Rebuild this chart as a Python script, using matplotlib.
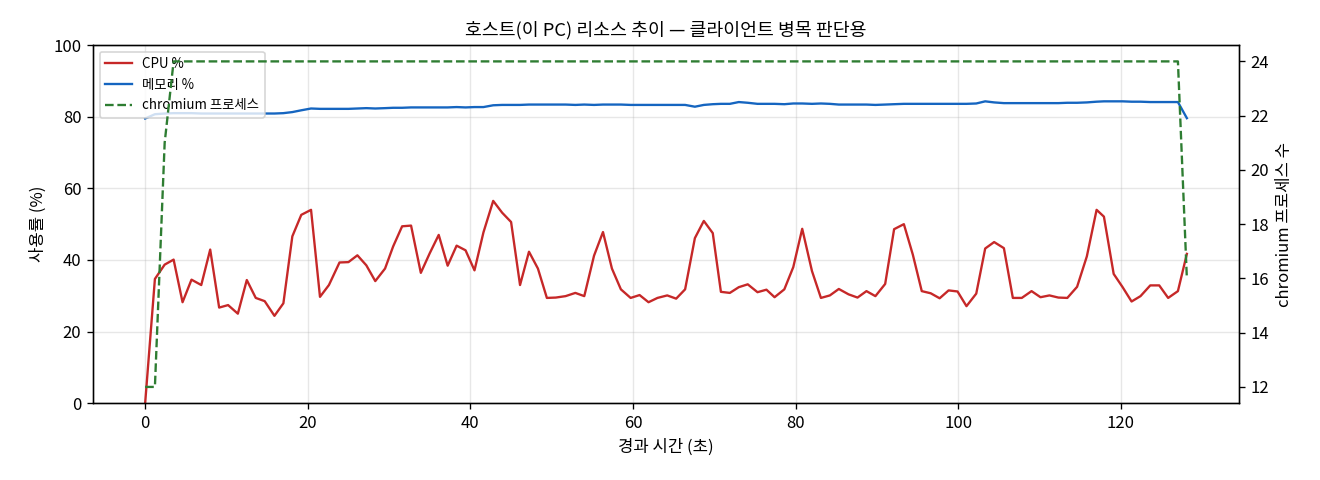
import matplotlib
matplotlib.use("Agg")
import matplotlib.pyplot as plt

plt.rcParams['font.family'] = ['Noto Sans CJK KR', 'DejaVu Sans']
plt.rcParams['axes.unicode_minus'] = False

# elapsed seconds of each sample
elapsed = [
    0.0, 1.2, 2.4, 3.5, 4.6, 5.7, 6.9, 8.0, 9.1, 10.2,
    11.4, 12.5, 13.6, 14.7, 15.9, 17.0, 18.1, 19.2, 20.4, 21.5,
    22.6, 23.9, 25.0, 26.1, 27.2, 28.3, 29.5, 30.5, 31.6, 32.7,
    33.9, 35.0, 36.1, 37.2, 38.3, 39.4, 40.5, 41.6, 42.8, 43.9,
    45.0, 46.1, 47.2, 48.3, 49.4, 50.5, 51.7, 52.9, 54.0, 55.2,
    56.3, 57.4, 58.5, 59.7, 60.8, 61.9, 63.0, 64.2, 65.3, 66.4,
    67.6, 68.7, 69.8, 70.8, 71.9, 73.0, 74.1, 75.3, 76.4, 77.4,
    78.6, 79.7, 80.8, 82.0, 83.1, 84.2, 85.3, 86.5, 87.6, 88.7,
    89.8, 91.0, 92.1, 93.3, 94.4, 95.5, 96.6, 97.7, 98.8, 99.9,
    101.0, 102.2, 103.3, 104.4, 105.6, 106.7, 107.8, 109.0, 110.1, 111.2,
    112.3, 113.4, 114.6, 115.8, 117.0, 117.9, 119.1, 120.2, 121.3, 122.4,
    123.6, 124.7, 125.8, 127.0, 128.1,
]

cpu = [
    0.0, 34.7, 38.7, 40.1, 28.2, 34.5, 33.0, 42.9, 26.7, 27.4,
    25.0, 34.4, 29.4, 28.5, 24.4, 27.9, 46.6, 52.6, 54.0, 29.7,
    33.0, 39.3, 39.4, 41.3, 38.5, 34.1, 37.6, 43.8, 49.4, 49.6,
    36.4, 41.9, 47.0, 38.4, 44.0, 42.7, 37.1, 47.7, 56.5, 53.2,
    50.6, 33.0, 42.3, 37.6, 29.4, 29.5, 29.9, 30.8, 29.9, 41.2,
    47.8, 37.6, 31.8, 29.4, 30.2, 28.2, 29.4, 30.1, 29.2, 31.8,
    46.1, 50.9, 47.5, 31.1, 30.8, 32.4, 33.2, 31.0, 31.7, 29.6,
    31.8, 38.0, 48.7, 36.9, 29.4, 30.1, 31.9, 30.4, 29.5, 31.3,
    29.9, 33.3, 48.6, 50.0, 41.5, 31.3, 30.7, 29.3, 31.5, 31.2,
    27.1, 30.6, 43.2, 45.0, 43.3, 29.4, 29.4, 31.3, 29.6, 30.1,
    29.5, 29.4, 32.5, 41.0, 54.0, 52.1, 36.1, 32.4, 28.4, 29.9,
    32.9, 32.9, 29.4, 31.3, 41.7,
]

mem = [
    79.5, 80.7, 80.9, 81.0, 81.0, 81.0, 80.9, 80.9, 80.9, 80.9,
    80.9, 80.9, 80.9, 80.9, 80.9, 81.0, 81.3, 81.8, 82.3, 82.2,
    82.2, 82.2, 82.2, 82.3, 82.4, 82.3, 82.4, 82.5, 82.5, 82.6,
    82.6, 82.6, 82.6, 82.6, 82.7, 82.6, 82.7, 82.7, 83.2, 83.3,
    83.3, 83.3, 83.4, 83.4, 83.4, 83.4, 83.4, 83.3, 83.4, 83.3,
    83.4, 83.4, 83.4, 83.3, 83.3, 83.3, 83.3, 83.3, 83.3, 83.3,
    82.8, 83.3, 83.5, 83.6, 83.6, 84.1, 83.9, 83.6, 83.6, 83.6,
    83.5, 83.7, 83.7, 83.6, 83.7, 83.6, 83.4, 83.4, 83.4, 83.4,
    83.3, 83.4, 83.5, 83.6, 83.6, 83.6, 83.6, 83.6, 83.6, 83.6,
    83.6, 83.7, 84.3, 84.0, 83.8, 83.8, 83.8, 83.8, 83.8, 83.8,
    83.8, 83.9, 83.9, 84.0, 84.2, 84.3, 84.3, 84.3, 84.2, 84.2,
    84.1, 84.1, 84.1, 84.1, 79.6,
]

# chromium process count: ramps up at start, stays at 24, drops at the end
chromium = [12, 12, 21] + [24] * 111 + [16]

fig, ax1 = plt.subplots(figsize=(11, 4), dpi=120)
fig.subplots_adjust(left=0.0705, right=0.9386, top=0.906, bottom=0.16)

l1, = ax1.plot(elapsed, cpu, color='#c62828', lw=1.4, label='CPU %')
l2, = ax1.plot(elapsed, mem, color='#1565c0', lw=1.4, label='메모리 %')
ax1.set_ylim(0, 100)
ax1.set_xlabel('경과 시간 (초)')
ax1.set_ylabel('사용률 (%)')
ax1.grid(True, alpha=0.3)

ax2 = ax1.twinx()
l3, = ax2.plot(elapsed, chromium, color='#2e7d32', lw=1.4, ls='--', label='chromium 프로세스')
ax2.set_ylabel('chromium 프로세스 수')

ax1.legend(handles=[l1, l2, l3], loc='upper left', fontsize=8)
ax1.set_title('호스트(이 PC) 리소스 추이 — 클라이언트 병목 판단용', fontsize=11)

fig.savefig('out.png')
